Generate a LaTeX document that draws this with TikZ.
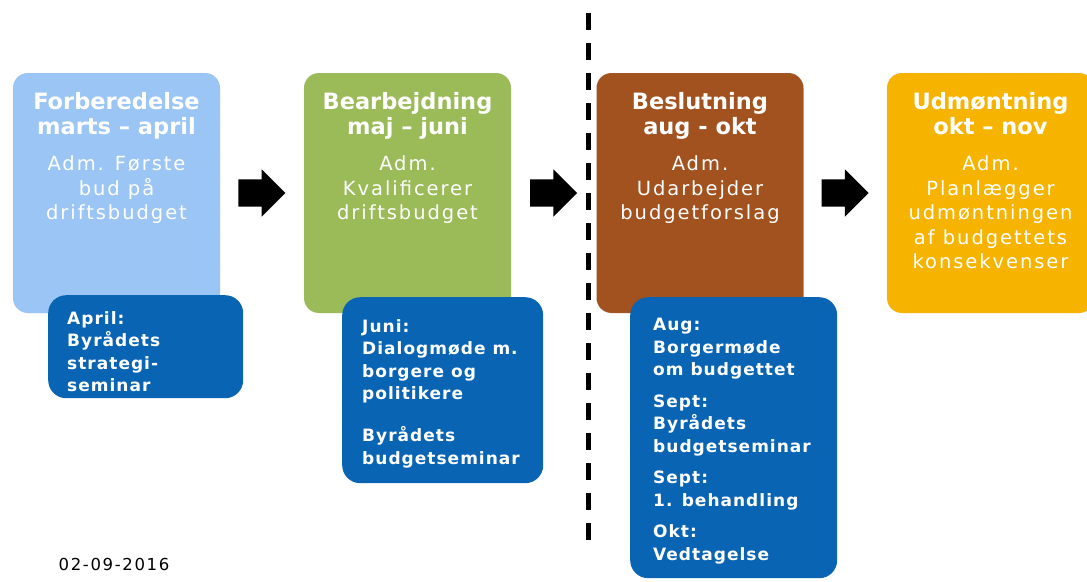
\documentclass[tikz,border=0pt]{standalone}
\usepackage{fontspec}
\setmainfont{DejaVu Sans}
\newfontfamily\leadfont[LetterSpace=10]{DejaVu Sans}
\newfontfamily\notefont[LetterSpace=6]{DejaVu Sans}
\usetikzlibrary{shapes.arrows,calc}
\definecolor{prepblue}{HTML}{9BC5F5}
\definecolor{workgreen}{HTML}{9BBB59}
\definecolor{decbrown}{HTML}{A2521E}
\definecolor{impyellow}{HTML}{F6B400}
\definecolor{noteblue}{HTML}{0A64B4}
\tikzset{
  phase/.style={draw=black!25, densely dotted, rounded corners=15pt,
    minimum width=207pt, minimum height=240pt, inner sep=0pt},
  phasetitle/.style={anchor=north, inner sep=0pt, align=center, text=white,
    font=\bfseries\fontsize{22.5}{25}\selectfont},
  phasetext/.style={anchor=north, inner sep=0pt, align=center, text=white,
    font=\leadfont\fontsize{19.5}{24.5}\selectfont},
  note/.style={fill=noteblue, rounded corners=18pt, anchor=north west, inner sep=0pt},
  notetext/.style={anchor=north west, inner sep=0pt, align=left, text=white,
    font=\notefont\bfseries\fontsize{17}{22.5}\selectfont},
  flow/.style={single arrow, fill=black, inner xsep=0pt, inner ysep=13.5pt,
    minimum height=47pt, single arrow head extend=10pt, xshift=-7pt},
  cutline/.style={line width=5pt, dash pattern=on 17pt off 13pt}
}
\begin{document}
\begin{tikzpicture}[x=1pt,y=-1pt]
\clip (0,0) rectangle (1087,581);

% the four phases
\node[phase, fill=prepblue] (prep) at (116.5,193) {};
\node[phase, fill=workgreen] (work) at (407.5,193) {};
\node[phase, fill=decbrown] (dec) at (700,193) {};
\node[phase, fill=impyellow] (imp) at (990.5,193) {};

\node[phasetitle] (preptitle) at ([yshift=-19.5pt]prep.north) {Forberedelse\\marts – april};
\node[phasetitle] (worktitle) at ([yshift=-19.5pt]work.north) {Bearbejdning\\maj – juni};
\node[phasetitle] (dectitle) at ([yshift=-19.5pt]dec.north) {Beslutning\\aug - okt};
\node[phasetitle] (imptitle) at ([yshift=-19.5pt]imp.north) {Udmøntning\\okt – nov};

\node[phasetext] (preptext) at ([yshift=-83pt]prep.north) {Adm. Første\\bud på\\driftsbudget};
\node[phasetext] (worktext) at ([yshift=-83pt]work.north) {Adm.\\Kvalificerer\\driftsbudget};
\node[phasetext] (dectext) at ([yshift=-83pt]dec.north) {Adm.\\Udarbejder\\budgetforslag};
\node[phasetext] (imptext) at ([yshift=-83pt]imp.north) {Adm.\\Planlægger\\udmøntningen\\af budgettets\\konsekvenser};

% arrows between phases
\node[flow] (arrA) at ($(prep.east)!0.5!(work.west)$) {};
\node[flow] (arrB) at ($(work.east)!0.5!(dec.west)$) {};
\node[flow] (arrC) at ($(dec.east)!0.5!(imp.west)$) {};

% political milestones
\node[note, minimum width=195pt, minimum height=103pt] (prepnote) at (48,295) {};
\node[notetext] (preplist) at ([xshift=19pt,yshift=-16pt]prepnote.north west)
  {April:\\Byrådets\\strategi-\\seminar};

\node[note, minimum width=201pt, minimum height=186pt] (worknote) at (342,297) {};
\node[notetext] (worklist) at ([xshift=20pt,yshift=-22pt]worknote.north west)
  {Juni:\\Dialogmøde m.\\borgere og\\politikere\\[19.5pt]Byrådets\\budgetseminar};

\node[note, minimum width=207pt, minimum height=281pt] (decnote) at (630,297) {};
\node[notetext] (declist) at ([xshift=23pt,yshift=-21pt]decnote.north west)
  {Aug:\\Borgermøde\\om budgettet\\[9pt]Sept:\\Byrådets\\budgetseminar\\[9pt]%
   Sept:\\1. behandling\\[9pt]Okt:\\Vedtagelse};

% divider
\coordinate (cuttop) at (588,13);
\coordinate (cutbot) at (588,545);
\draw[cutline] (cuttop) -- (cutbot);

\node[inner sep=0pt, font=\leadfont\fontsize{16.5}{18}\selectfont] (date) at (114,564) {02-09-2016};
\end{tikzpicture}
\end{document}
